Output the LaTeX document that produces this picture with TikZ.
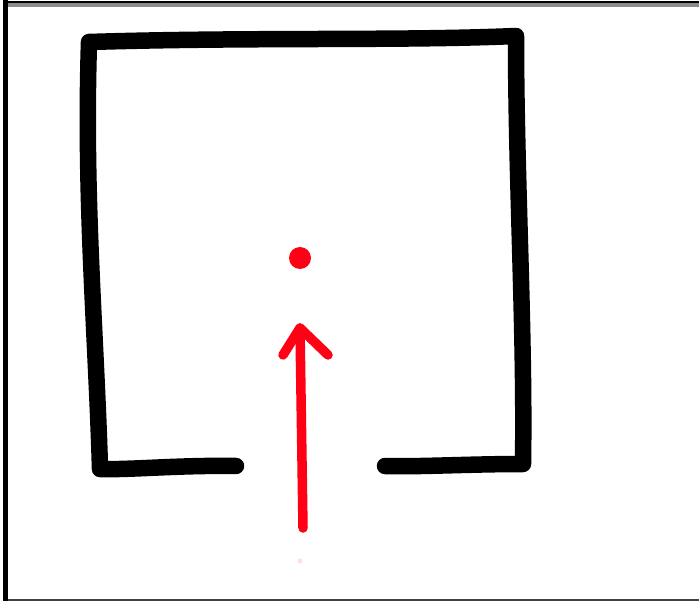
\documentclass[tikz,border=0pt]{standalone}
\usetikzlibrary{arrows.meta}
\definecolor{inkred}{RGB}{255,0,20}
\tikzset{
  pen/.style={line width=16.5pt, line cap=round, line join=round, black},
  redpen/.style={line width=9.5pt, line cap=round, line join=round, inkred},
}
\begin{document}
\begin{tikzpicture}[x=1pt,y=-1pt]
\useasboundingbox (0,0) rectangle (699,601);
\fill[white] (0,0) rectangle (699,601);
% frame
\draw[line width=2pt, black] (3,2.5) -- (699,2.5);
\draw[line width=3.5pt, black!45] (8,5.25) -- (699,5.25);
\draw[line width=2pt, black!75] (8,599.5) -- (699,599.5);
\draw[line width=5pt, black] (5.5,0) -- (5.5,601);
% hand-drawn square with gap
\coordinate (bl1) at (236,466);
\coordinate (bl) at (100,469);
\coordinate (tl) at (89,42);
\coordinate (tr) at (516,36);
\coordinate (br) at (523,464);
\coordinate (br1) at (385,466);
\draw[pen] (bl1) .. controls (180,465) and (130,470) .. (bl)
  .. controls (96,330) and (84,200) .. (tl)
  .. controls (250,37) and (400,41) .. (tr)
  .. controls (516,180) and (525,330) .. (br)
  .. controls (470,464) and (420,467) .. (br1);
% red dot
\coordinate (dot) at (300,258);
\fill[inkred] (dot) circle (11pt);
% red arrow
\coordinate (tip) at (300,328);
\coordinate (tail) at (303,528);
\coordinate (la) at (283,355);
\coordinate (ra) at (328,355);
\draw[redpen] (tail) -- (tip);
\draw[redpen] (la) -- (tip) -- (ra);
\fill[inkred!12] (300,561) circle (2.5pt);
\end{tikzpicture}
\end{document}
